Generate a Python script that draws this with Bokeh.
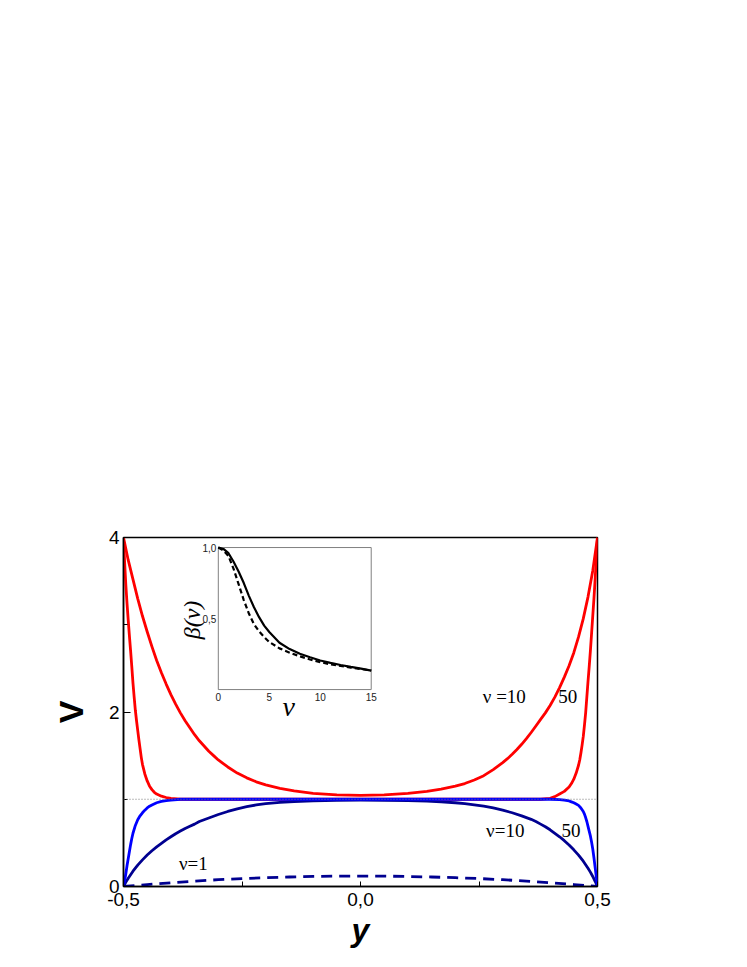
from bokeh.plotting import figure
from bokeh.models import Range1d, FixedTicker, CustomJSTickFormatter, Span
from bokeh.core.properties import value
from bokeh.embed import file_html
from bokeh.resources import INLINE

# ---------------- data ----------------
# red, nu = 10
Y_RED10 = [-0.50, -0.49, -0.48, -0.47, -0.46, -0.45, -0.44, -0.43, -0.42, -0.41, -0.40, -0.39,
           -0.38, -0.37, -0.36, -0.35, -0.34, -0.33, -0.32, -0.31, -0.30, -0.28, -0.26, -0.24,
           -0.22, -0.20, -0.17, -0.14, -0.10, -0.05, 0.00, 0.05, 0.10, 0.14, 0.17, 0.20, 0.22,
           0.24, 0.26, 0.28, 0.30, 0.31, 0.32, 0.33, 0.34, 0.35, 0.36, 0.37, 0.38, 0.39, 0.40,
           0.41, 0.42, 0.43, 0.44, 0.45, 0.46, 0.47, 0.48, 0.49, 0.50]
V_RED10 = [4.00, 3.74, 3.52, 3.30, 3.10, 2.92, 2.75, 2.59, 2.45, 2.32, 2.20, 2.09,
           1.99, 1.90, 1.82, 1.74, 1.67, 1.61, 1.55, 1.50, 1.45, 1.37, 1.30, 1.245,
           1.20, 1.165, 1.125, 1.095, 1.068, 1.05, 1.045, 1.05, 1.068, 1.09, 1.115, 1.15, 1.18,
           1.22, 1.27, 1.34, 1.42, 1.465, 1.515, 1.57, 1.63, 1.695, 1.765, 1.84, 1.915, 1.99, 2.075,
           2.17, 2.28, 2.40, 2.53, 2.68, 2.86, 3.07, 3.32, 3.62, 4.00]

# red, nu = 50
Y_RED50 = [-0.500, -0.4975, -0.495, -0.4925, -0.490, -0.4875, -0.485, -0.4825, -0.480, -0.4775,
           -0.475, -0.4725, -0.470, -0.4675, -0.465, -0.4625, -0.460, -0.455, -0.450, -0.445,
           -0.440, -0.435, -0.430, -0.420, -0.410, -0.400, -0.380, 0.00, 0.38, 0.40, 0.41, 0.42,
           0.43, 0.44, 0.445, 0.45, 0.455, 0.46, 0.4625, 0.465, 0.4675, 0.47, 0.4725, 0.475,
           0.4775, 0.48, 0.4825, 0.485, 0.4875, 0.49, 0.4925, 0.495, 0.4975, 0.50]
V_RED50 = [4.00, 3.70, 3.45, 3.24, 3.05, 2.87, 2.70, 2.52, 2.33, 2.17,
           2.02, 1.90, 1.79, 1.68, 1.58, 1.48, 1.40, 1.29, 1.21, 1.15,
           1.11, 1.08, 1.06, 1.035, 1.02, 1.01, 1.00, 1.00, 1.00, 1.01, 1.03, 1.06,
           1.09, 1.14, 1.18, 1.23, 1.30, 1.39, 1.45, 1.53, 1.62, 1.72, 1.85, 1.99,
           2.17, 2.35, 2.52, 2.70, 2.90, 3.10, 3.30, 3.52, 3.76, 4.00]

# blue, nu = 50
Y_BLUE50 = [-0.500, -0.4975, -0.495, -0.4925, -0.490, -0.4875, -0.485, -0.4825, -0.480, -0.475,
            -0.470, -0.465, -0.460, -0.455, -0.450, -0.445, -0.440, -0.430, -0.420, -0.410,
            -0.400, -0.380, 0.00, 0.38, 0.40, 0.42, 0.43, 0.44, 0.445, 0.45, 0.455, 0.46, 0.465,
            0.47, 0.4725, 0.475, 0.4775, 0.48, 0.4825, 0.485, 0.4875, 0.49, 0.4925, 0.495,
            0.4975, 0.50]
V_BLUE50 = [0.00, 0.07, 0.15, 0.24, 0.32, 0.40, 0.48, 0.55, 0.61, 0.70,
            0.765, 0.81, 0.845, 0.875, 0.90, 0.92, 0.935, 0.96, 0.975, 0.985,
            0.99, 1.00, 1.00, 1.00, 1.00, 0.995, 0.99, 0.98, 0.97, 0.96, 0.945, 0.93, 0.90,
            0.86, 0.83, 0.79, 0.745, 0.69, 0.635, 0.58, 0.51, 0.43, 0.33, 0.22,
            0.11, 0.00]

# navy, nu = 10
Y_BLUE10 = [-0.50, -0.495, -0.49, -0.485, -0.48, -0.47, -0.46, -0.45, -0.44, -0.43, -0.42, -0.41,
            -0.40, -0.39, -0.38, -0.37, -0.36, -0.35, -0.34, -0.32, -0.30, -0.28, -0.26, -0.24,
            -0.22, -0.20, -0.17, -0.14, -0.10, -0.05, 0.00, 0.05, 0.10, 0.14, 0.17, 0.20, 0.22,
            0.24, 0.26, 0.28, 0.30, 0.32, 0.34, 0.36, 0.37, 0.38, 0.39, 0.40, 0.41, 0.42, 0.43,
            0.44, 0.45, 0.46, 0.47, 0.48, 0.485, 0.49, 0.495, 0.50]
V_BLUE10 = [0.00, 0.05, 0.095, 0.135, 0.175, 0.245, 0.305, 0.36, 0.41, 0.455, 0.495, 0.535,
            0.57, 0.605, 0.635, 0.665, 0.69, 0.715, 0.745, 0.785, 0.825, 0.86, 0.89, 0.915,
            0.935, 0.95, 0.965, 0.974, 0.983, 0.988, 0.99, 0.988, 0.984, 0.978, 0.97, 0.96, 0.95,
            0.935, 0.92, 0.90, 0.875, 0.845, 0.81, 0.77, 0.745, 0.715, 0.685, 0.65, 0.61, 0.57, 0.525,
            0.475, 0.42, 0.36, 0.29, 0.21, 0.165, 0.115, 0.06, 0.00]

# navy dashed, nu = 1
Y_NU1 = [-0.50, -0.45, -0.40, -0.35, -0.30, -0.25, -0.20, -0.15, -0.10, -0.05, 0.00,
         0.05, 0.10, 0.15, 0.20, 0.25, 0.30, 0.35, 0.40, 0.45, 0.50]
V_NU1 = [0.000, 0.022, 0.043, 0.062, 0.078, 0.091, 0.101, 0.109, 0.115, 0.119, 0.120,
         0.119, 0.115, 0.109, 0.101, 0.091, 0.078, 0.062, 0.043, 0.022, 0.000]

REF_LEVEL = 1.0

# inset beta(nu)
NU_INSET = [0, 0.5, 1.0, 1.5, 2.0, 2.5, 3.0, 3.5, 4.0, 4.5, 5.0, 6.0, 7.0, 8.0, 9.0,
            10.0, 11.0, 12.0, 13.0, 14.0, 15.0]
BETA_SOLID = [1.0, 0.99, 0.96, 0.90, 0.83, 0.75, 0.66, 0.58, 0.51, 0.45, 0.405, 0.33, 0.285,
              0.252, 0.228, 0.205, 0.188, 0.173, 0.160, 0.148, 0.133]
BETA_DASHED = [1.0, 0.98, 0.94, 0.85, 0.74, 0.63, 0.535, 0.46, 0.41, 0.37, 0.335, 0.29, 0.26,
               0.234, 0.212, 0.193, 0.178, 0.166, 0.155, 0.145, 0.134]

X_TICKS = [-0.5, 0.0, 0.5]
X_MINOR = [-0.25, 0.25]
Y_TICKS = [0, 2, 4]
Y_MINOR = [1, 3]
INSET_X_TICKS = [0, 5, 10, 15]
INSET_X_LABELS = ["0", "5", "10", "15"]
INSET_Y_TICKS = [0.5, 1.0]
INSET_Y_LABELS = ["0,5", "1,0"]

# ---------------- figure ----------------
X_MAIN = (-0.5, 0.5)
Y_MAIN = (0.0, 4.0)

p = figure(frame_width=474, frame_height=349,
           x_range=Range1d(*X_MAIN), y_range=Range1d(*Y_MAIN),
           output_backend="svg", toolbar_location=None,
           min_border_left=123, min_border_top=537, min_border_right=50, min_border_bottom=70,
           background_fill_color="white", border_fill_color="white")
p.xgrid.visible = False
p.ygrid.visible = False
p.outline_line_color = "black"
p.outline_line_width = 1.5

for ax in (p.xaxis[0], p.yaxis[0]):
    ax.axis_line_width = 1.5
    ax.axis_line_color = "black"
    ax.major_tick_out = 0
    ax.minor_tick_out = 0
    ax.major_tick_line_color = "black"
    ax.minor_tick_line_color = "black"
    ax.major_label_text_font = "Liberation Sans"
    ax.major_label_text_font_size = "19px"
    ax.major_label_text_color = "black"
    ax.axis_label_text_color = "black"
    ax.axis_label_text_font = "Liberation Sans"

xa = p.xaxis[0]
xa.ticker = FixedTicker(ticks=X_TICKS, minor_ticks=X_MINOR)
xa.major_tick_in = 5
xa.minor_tick_in = 5
xa.formatter = CustomJSTickFormatter(code="return tick.toFixed(1).replace('.', ',');")
xa.major_label_standoff = 6
xa.axis_label = "y"
xa.axis_label_text_font_size = "32px"
xa.axis_label_text_font_style = "bold italic"
xa.axis_label_standoff = 3

ya = p.yaxis[0]
ya.ticker = FixedTicker(ticks=Y_TICKS, minor_ticks=Y_MINOR)
ya.major_tick_in = 7
ya.minor_tick_in = 4
ya.formatter = CustomJSTickFormatter(code="return tick.toFixed(0);")
ya.major_label_standoff = 4
ya.axis_label = "V"
ya.axis_label_text_font_size = "34px"
ya.axis_label_text_font_style = "bold"
ya.axis_label_standoff = 16

p.add_layout(Span(location=REF_LEVEL, dimension="width", line_color="#777777",
                  line_width=1, line_dash="1 2"))

RED = "#FF0000"
BLUE = "#0000FF"
NAVY = "#000090"
LW = 2.8

p.line(Y_RED10, V_RED10, line_color=RED, line_width=LW, line_join="round")
p.line(Y_RED50, V_RED50, line_color=RED, line_width=LW, line_join="round")
p.line(Y_BLUE10, V_BLUE10, line_color=NAVY, line_width=LW, line_join="round")
p.line(Y_BLUE50, V_BLUE50, line_color=BLUE, line_width=LW, line_join="round")
p.line(Y_NU1, V_NU1, line_color=NAVY, line_width=LW, line_dash="11 7")

lab_font = value("Liberation Serif")
p.text(x=[0.258], y=[2.18], text=["ν =10"], text_font=lab_font, text_font_size="19px",
       text_baseline="middle", text_align="left", text_color="black")
p.text(x=[0.417], y=[2.18], text=["50"], text_font=lab_font, text_font_size="19px",
       text_baseline="middle", text_align="left", text_color="black")
p.text(x=[0.265], y=[0.64], text=["ν=10"], text_font=lab_font, text_font_size="19px",
       text_baseline="middle", text_align="left", text_color="black")
p.text(x=[0.424], y=[0.64], text=["50"], text_font=lab_font, text_font_size="19px",
       text_baseline="middle", text_align="left", text_color="black")
p.text(x=[-0.383], y=[0.26], text=["ν=1"], text_font=lab_font, text_font_size="19px",
       text_baseline="middle", text_align="left", text_color="black")

# ---------------- inset (own ranges mapped onto a sub-box of the frame) ----------------
INSET_X = (0.0, 15.0)
INSET_Y = (0.0, 1.0)
BOX_X = (-0.300, 0.0226)   # inset box in main-data coordinates
BOX_Y = (2.257, 3.885)

def _extra(rng, box, main):
    s = (rng[1] - rng[0]) / (box[1] - box[0])
    return Range1d(rng[0] + (main[0] - box[0]) * s, rng[0] + (main[1] - box[0]) * s)

p.extra_x_ranges = {"ix": _extra(INSET_X, BOX_X, X_MAIN)}
p.extra_y_ranges = {"iy": _extra(INSET_Y, BOX_Y, Y_MAIN)}
IR = dict(x_range_name="ix", y_range_name="iy")

p.quad(left=[INSET_X[0]], right=[INSET_X[1]], bottom=[INSET_Y[0]], top=[INSET_Y[1]],
       fill_color="white", line_color="#808080", line_width=1, **IR)
p.line(NU_INSET, BETA_SOLID, line_color="black", line_width=2.2, **IR)
p.line(NU_INSET, BETA_DASHED, line_color="black", line_width=2.2, line_dash="5 3", **IR)

p.text(x=INSET_X_TICKS, y=[INSET_Y[0]] * len(INSET_X_TICKS), text=INSET_X_LABELS,
       text_font=value("Liberation Sans"), text_font_size="10px", text_color="#222222",
       text_align="center", text_baseline="top", y_offset=3, **IR)
p.text(x=[INSET_X[0]] * len(INSET_Y_TICKS), y=INSET_Y_TICKS, text=INSET_Y_LABELS,
       text_font=value("Liberation Sans"), text_font_size="10px", text_color="#222222",
       text_align="right", text_baseline="middle", x_offset=-2, **IR)
p.text(x=[-2.6], y=[0.49], text=["β(ν)"], text_font=value("Liberation Serif"),
       text_font_size="24px", text_font_style="italic", angle=1.5708,
       text_align="center", text_baseline="middle", text_color="black", **IR)
p.text(x=[6.9], y=[-0.12], text=["ν"], text_font=value("Liberation Serif"),
       text_font_size="28px", text_font_style="italic",
       text_align="center", text_baseline="middle", text_color="black", **IR)

open("out.html", "w").write(file_html(p, INLINE))
